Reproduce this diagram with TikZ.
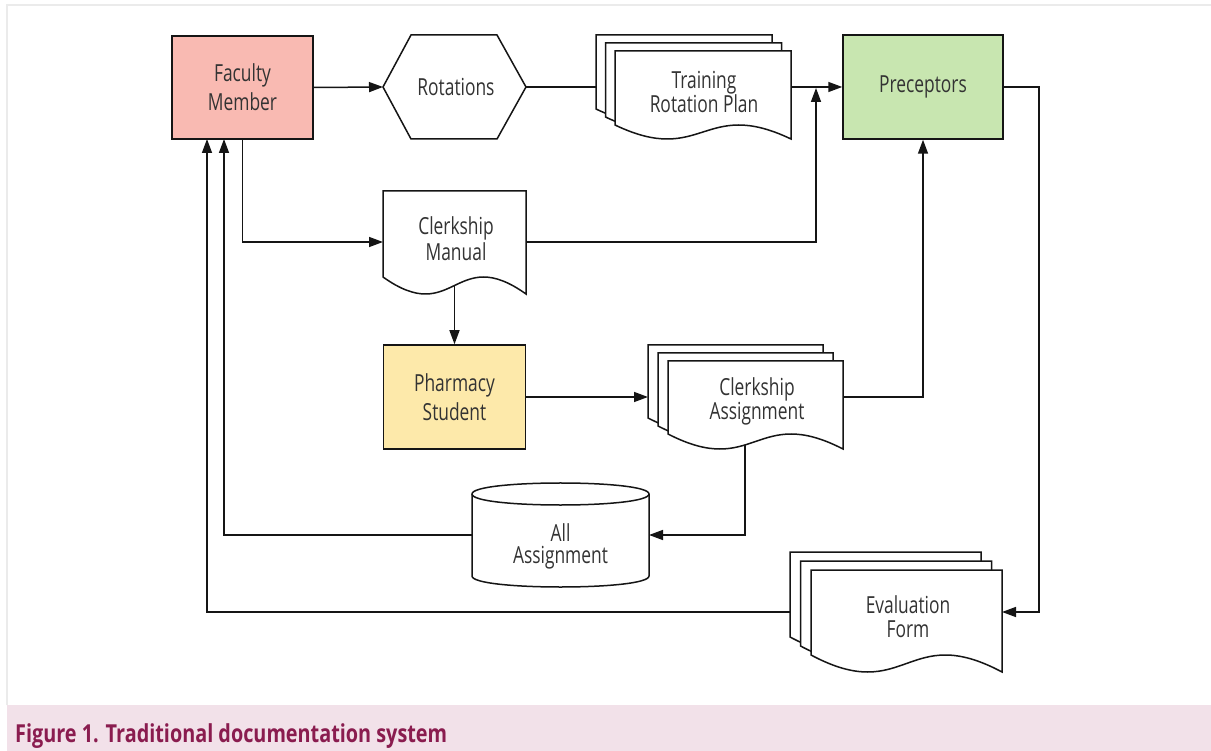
\documentclass[tikz,border=0pt]{standalone}
\usepackage{fontspec}
\setmainfont{Open Sans}[FakeStretch=0.74]
\newfontfamily\capfont{Open Sans}[FakeStretch=0.8]
\usetikzlibrary{arrows.meta}
\definecolor{facfill}{HTML}{F9BAB2}
\definecolor{precfill}{HTML}{C8E6B0}
\definecolor{stufill}{HTML}{FDE9AA}
\definecolor{txt}{HTML}{333333}
\definecolor{capbg}{HTML}{F2E1E9}
\definecolor{capfg}{HTML}{8A1C4F}
\definecolor{framecol}{HTML}{EBEBEB}
\definecolor{strokecol}{HTML}{151515}
\pgfdeclarelayer{paper}
\pgfdeclarelayer{bg}
\pgfsetlayers{paper,bg,main}
\tikzset{
  shp/.style={draw=strokecol, fill=white, line width=1.5pt, line join=miter},
  boxnode/.style={draw=strokecol, line width=1.5pt, inner sep=0pt, align=center, text=txt,
     font=\fontsize{23.5}{29}\selectfont},
  lbl/.style={inner sep=0pt, align=center, text=txt},
  ln/.style={draw=strokecol, line width=1.5pt},
  arr/.style={ln, -{Triangle[length=14pt,width=10pt]}},
}
\newcommand{\docshape}[5]{%
  \filldraw[shp] (#1,#2) -- (#3,#2) -- (#3,#4+#5)
     .. controls ({(#1+#3)/2},#4-2*#5) and ({(#1+#3)/2},#4+3*#5) .. (#1,#4) -- cycle;}
\newcommand{\stackdoc}[7]{%
  \docshape{#1-2*#6}{#2-2*#7}{#3-2*#6}{#4-2*#7}{#5}
  \docshape{#1-#6}{#2-#7}{#3-#6}{#4-#7}{#5}
  \docshape{#1}{#2}{#3}{#4}{#5}}
\begin{document}
\begin{tikzpicture}[x=1pt,y=-1pt]
\useasboundingbox (0,0) rectangle (1211,751);
\begin{pgfonlayer}{paper}
\fill[white] (0,0) rectangle (1211,751);
\draw[framecol, line width=1.2pt] (7,705) -- (7,5) -- (1211,5);
\fill[capbg] (7,705) rectangle (1211,751);
\end{pgfonlayer}
\node[anchor=base west, inner sep=0pt, text=capfg] (cap) at (15,742)
  {\resizebox{432pt}{!}{\capfont\bfseries\fontsize{24}{24}\selectfont Figure 1. Traditional documentation system}};

% rectangles
\node[boxnode, fill=facfill, minimum width=141pt, minimum height=103pt] (fac) at (242.5,87.5) {Faculty\\Member};
\node[boxnode, fill=precfill, minimum width=160pt, minimum height=104pt] (prec) at (923,87) {Preceptors};
\node[boxnode, fill=stufill, minimum width=142pt, minimum height=104pt] (ps) at (454.5,397) {Pharmacy\\Student};

% hexagon
\filldraw[shp] (383,87) -- (411,35) -- (497,35) -- (526,87) -- (497,139) -- (411,139) -- cycle;
\node[lbl, font=\fontsize{23.5}{29}\selectfont] (rot) at (456,87) {Rotations};

% documents
\stackdoc{615}{51}{791}{125}{14}{9.5}{8}
\node[lbl, font=\fontsize{23.5}{20}\selectfont] (trp) at (704,92) {Training\\Rotation Plan};
\docshape{383}{191}{526}{277}{17}
\node[lbl, font=\fontsize{23.5}{26}\selectfont] (cm) at (456,239) {Clerkship\\Manual};
\stackdoc{668}{361}{843}{434}{15}{10}{8}
\node[lbl, font=\fontsize{23.5}{19}\selectfont] (ca) at (757,401) {Clerkship\\Assignment};
\stackdoc{811}{570}{1002}{655}{17}{10.5}{9}
\node[lbl, font=\fontsize{23.5}{24}\selectfont] (ev) at (908,617) {Evaluation\\Form};

% cylinder
\filldraw[shp] (472,494) -- (472,576) .. controls (472,590.67) and (649,590.67) .. (649,576)
   -- (649,494) .. controls (649,479.33) and (472,479.33) .. (472,494) -- cycle;
\draw[ln] (472,494) .. controls (472,508.67) and (649,508.67) .. (649,494);
\node[lbl, font=\fontsize{23.5}{22}\selectfont] (aa) at (560.5,546) {All\\Assignment};

% connection points
\coordinate (rotin) at (383,87);
\coordinate (rotout) at (526,87);
\coordinate (trpin) at (596,87);
\coordinate (trpout) at (791,87);
\coordinate (cmin) at (383,242);
\coordinate (cmout) at (526,242);
\coordinate (cmbot) at (454.5,285);
\coordinate (jn1) at (816,88);
\coordinate (cain) at (648,397);
\coordinate (caout) at (843,397);
\coordinate (cabot) at (745,440);
\coordinate (aain) at (649,535);
\coordinate (aaout) at (472,535);
\coordinate (evin) at (1002,612);
\coordinate (evout) at (790,612);
\coordinate (evturn) at (1039,612);
\coordinate (facin1) at (207,139);
\coordinate (facin2) at (224,139);

\begin{pgfonlayer}{bg}
\draw[arr] (fac.east) -- (rotin);
\draw[ln] (rotout) -- (trpin);
\draw[arr] (trpout) -- (prec.west);
\draw[arr] (fac.south) |- (cmin);
\draw[arr] (cmout) -| (jn1);
\draw[arr] (cmbot) -- (ps.north);
\draw[arr] (ps.east) -- (cain);
\draw[arr] (caout) -| (prec.south);
\draw[arr] (cabot) |- (aain);
\draw[arr] (aaout) -| (facin2);
\draw[arr] (evout) -| (facin1);
\draw[arr] (prec.east) -| (evturn) -- (evin);
\end{pgfonlayer}
\end{tikzpicture}
\end{document}
